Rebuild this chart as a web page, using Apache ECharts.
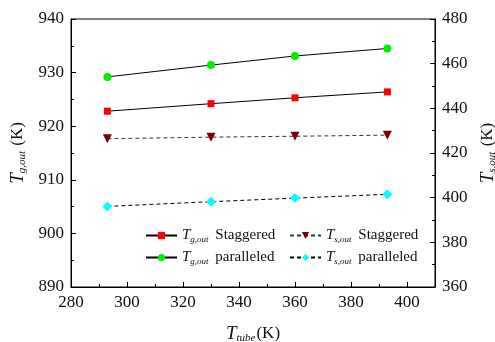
<!DOCTYPE html>
<html style="height: 100%">
<head>
    <meta charset="utf-8">
    <script src="https://cdn.jsdelivr.net/npm/echarts@6/dist/echarts.min.js"></script>
</head>
<body style="height: 100%; margin: 0; background: #fff">
    <div id="container" style="width: 495px; height: 342px"></div>
<script type="text/javascript">
    // T_tube (K)
    var tubeTemps = [293, 330, 360, 393];
    // T_g,out (K), left axis
    var tgStaggered = [922.8, 924.2, 925.3, 926.4];
    var tgParalleled = [929.2, 931.4, 933.1, 934.5];
    // T_s,out (K), right axis
    var tsStaggered = [426.4, 427.1, 427.5, 428.0];
    var tsParalleled = [396.1, 398.2, 399.8, 401.5];

    var seriesNames = ['Tg Staggered', 'Tg paralleled', 'Ts Staggered', 'Ts paralleled'];
    var legendText = {
        'Tg Staggered': '{i|T}{s|g,out} Staggered',
        'Tg paralleled': '{i|T}{s|g,out} paralleled',
        'Ts Staggered': '{i|T}{s|s,out} Staggered',
        'Ts paralleled': '{i|T}{s|s,out} paralleled'
    };

    function pairs(xs, ys) {
        var out = [];
        for (var i = 0; i < xs.length; i++) {
            out.push([xs[i], ys[i]]);
        }
        return out;
    }

    var font = 'Liberation Serif';
    var richName = {
        i: {fontFamily: font, fontStyle: 'italic', fontSize: 19, color: '#111'},
        s: {fontFamily: font, fontStyle: 'italic', fontSize: 11, color: '#111', padding: [9, 1, 0, 0]},
        n: {fontFamily: font, fontSize: 17, color: '#111'}
    };
    var richLegend = {
        i: {fontFamily: font, fontStyle: 'italic', fontSize: 15, color: '#111'},
        s: {fontFamily: font, fontStyle: 'italic', fontSize: 9, color: '#111', padding: [8, 3, 0, 0]}
    };

    function legendBox(left, names) {
        return {
            orient: 'vertical',
            left: left,
            top: 228,
            padding: 0,
            itemGap: 6,
            itemWidth: 31,
            itemHeight: 9,
            itemStyle: {borderWidth: 0},
            data: names,
            formatter: function (name) { return legendText[name]; },
            textStyle: {fontFamily: font, fontSize: 15, color: '#111', rich: richLegend}
        };
    }

    var axisLabel = {fontFamily: font, fontSize: 17, color: '#111', margin: 7};
    var axisLine = {show: true, lineStyle: {color: '#000', width: 1}};
    var tick = {inside: true, length: 5, lineStyle: {color: '#000'}};
    var minor = {show: true, splitNumber: 2, length: 3, lineStyle: {color: '#000'}};

    var myChart = echarts.init(document.getElementById('container'));
    myChart.setOption({
        animation: false,
        grid: {
            left: 71, top: 19, width: 364, height: 268,
            outerBoundsMode: 'none',
            show: true, borderColor: '#000', borderWidth: 1
        },
        legend: [
            legendBox(145, ['Tg Staggered', 'Tg paralleled']),
            legendBox(289, ['Ts Staggered', 'Ts paralleled'])
        ],
        xAxis: {
            type: 'value',
            min: 280, max: 410, interval: 20,
            axisLine: axisLine, axisTick: tick, minorTick: minor,
            axisLabel: Object.assign({showMaxLabel: false}, axisLabel),
            splitLine: {show: false},
            name: '{i|T}{s|tube}{n|(K)}',
            nameLocation: 'middle',
            nameGap: 37,
            nameTextStyle: {rich: richName}
        },
        yAxis: [
            {
                type: 'value',
                min: 890, max: 940, interval: 10,
                axisLine: axisLine, axisTick: tick, minorTick: minor,
                axisLabel: axisLabel,
                splitLine: {show: false},
                name: '{i|T}{s|g,out}{n| (K)}',
                nameLocation: 'middle',
                nameRotate: 90,
                nameGap: 36,
                nameTextStyle: {rich: richName}
            },
            {
                type: 'value',
                position: 'right',
                min: 360, max: 480, interval: 20,
                axisLine: axisLine, axisTick: tick, minorTick: minor,
                axisLabel: axisLabel,
                splitLine: {show: false},
                name: '{i|T}{s|s,out}{n| (K)}',
                nameLocation: 'middle',
                nameRotate: 90,
                nameGap: 40,
                nameTextStyle: {rich: richName}
            }
        ],
        series: [
            {
                name: seriesNames[0], type: 'line', yAxisIndex: 0,
                data: pairs(tubeTemps, tgStaggered),
                symbol: 'rect', symbolSize: 7,
                itemStyle: {color: '#ff0000'},
                lineStyle: {color: '#000', width: 1}
            },
            {
                name: seriesNames[1], type: 'line', yAxisIndex: 0,
                data: pairs(tubeTemps, tgParalleled),
                symbol: 'circle', symbolSize: 8,
                itemStyle: {color: '#00ee00'},
                lineStyle: {color: '#000', width: 1}
            },
            {
                name: seriesNames[2], type: 'line', yAxisIndex: 1,
                data: pairs(tubeTemps, tsStaggered),
                symbol: 'triangle', symbolSize: 9, symbolRotate: 180,
                itemStyle: {color: '#7a0000'},
                lineStyle: {color: '#333', width: 1, type: [4, 3]}
            },
            {
                name: seriesNames[3], type: 'line', yAxisIndex: 1,
                data: pairs(tubeTemps, tsParalleled),
                symbol: 'diamond', symbolSize: 10,
                itemStyle: {color: '#00ffff'},
                lineStyle: {color: '#000', width: 1, type: [4, 3]}
            }
        ]
    });
</script>
</body>
</html>
